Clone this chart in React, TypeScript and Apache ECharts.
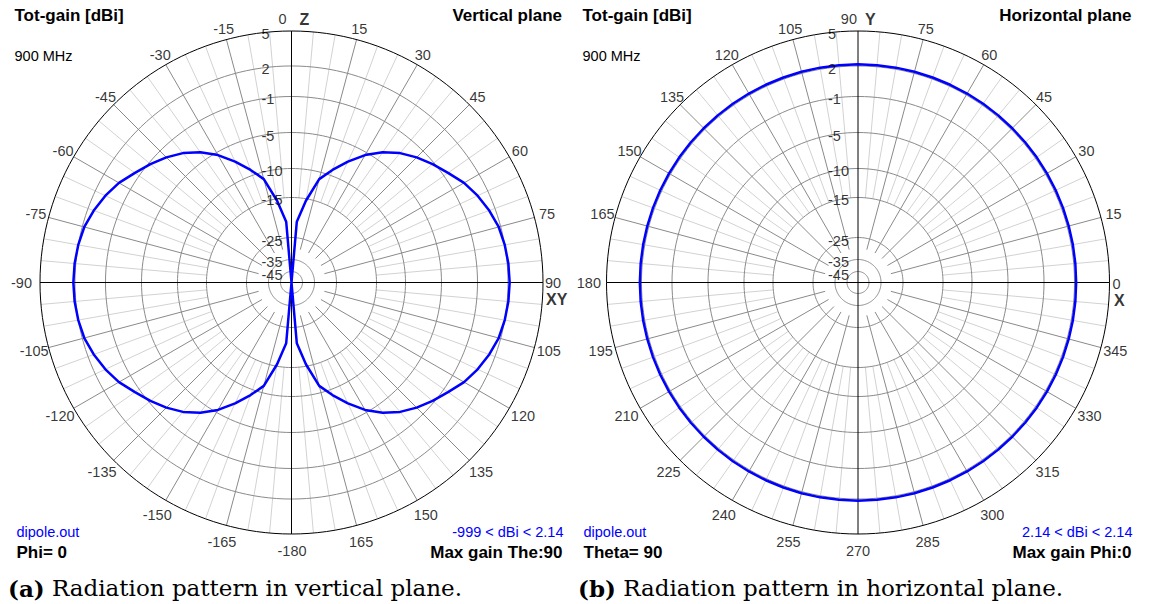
import React, { useEffect, useRef } from "react";
import * as echarts from "echarts";

// ---- scale: gain rings (dBi) and their radius as a fraction of the outer ring ----
const RING_DB = [5, 2, -1, -5, -10, -15, -25, -35, -45];
const RING_RADIUS = [1, 0.861, 0.7396, 0.5964, 0.4533, 0.338, 0.1789, 0.0915, 0.0437];
const FLOOR_DB = -999;

// ---- vertical plane (Phi = 0), theta in degrees, gain in dBi ----
const V_THETA = [
  -180, -175, -170, -165, -160, -155, -150, -145, -140, -135, -130, -125, -120, -115, -110, -105, -100, -95,
  -90, -85, -80, -75, -70, -65, -60, -55, -50, -45, -40, -35, -30, -25, -20, -15, -10, -5,
  0, 5, 10, 15, 20, 25, 30, 35, 40, 45, 50, 55, 60, 65, 70, 75, 80, 85,
  90, 95, 100, 105, 110, 115, 120, 125, 130, 135, 140, 145, 150, 155, 160, 165, 170, 175, 180,
];
const V_GAIN = [
  -999, -21, -15.5, -11.2, -9.2, -7.3, -5.4, -4.0, -2.9, -2.0, -1.2, -0.5, 0.3, 0.9, 1.4, 1.8, 2.0, 2.1,
  2.14, 2.1, 2.0, 1.8, 1.4, 0.9, 0.3, -0.5, -1.2, -2.0, -2.9, -4.0, -5.4, -7.3, -9.2, -11.2, -15.5, -21,
  -999, -21, -15.5, -11.2, -9.2, -7.3, -5.4, -4.0, -2.9, -2.0, -1.2, -0.5, 0.3, 0.9, 1.4, 1.8, 2.0, 2.1,
  2.14, 2.1, 2.0, 1.8, 1.4, 0.9, 0.3, -0.5, -1.2, -2.0, -2.9, -4.0, -5.4, -7.3, -9.2, -11.2, -15.5, -21, -999,
];

// ---- horizontal plane (Theta = 90), phi in degrees, gain in dBi ----
const H_PHI = [
  0, 5, 10, 15, 20, 25, 30, 35, 40, 45, 50, 55, 60, 65, 70, 75, 80, 85,
  90, 95, 100, 105, 110, 115, 120, 125, 130, 135, 140, 145, 150, 155, 160, 165, 170, 175,
  180, 185, 190, 195, 200, 205, 210, 215, 220, 225, 230, 235, 240, 245, 250, 255, 260, 265,
  270, 275, 280, 285, 290, 295, 300, 305, 310, 315, 320, 325, 330, 335, 340, 345, 350, 355, 360,
];
const H_GAIN = [
  2.14, 2.14, 2.14, 2.14, 2.14, 2.14, 2.14, 2.14, 2.14, 2.14, 2.14, 2.14, 2.14, 2.14, 2.14, 2.14, 2.14, 2.14,
  2.14, 2.14, 2.14, 2.14, 2.14, 2.14, 2.14, 2.14, 2.14, 2.14, 2.14, 2.14, 2.14, 2.14, 2.14, 2.14, 2.14, 2.14,
  2.14, 2.14, 2.14, 2.14, 2.14, 2.14, 2.14, 2.14, 2.14, 2.14, 2.14, 2.14, 2.14, 2.14, 2.14, 2.14, 2.14, 2.14,
  2.14, 2.14, 2.14, 2.14, 2.14, 2.14, 2.14, 2.14, 2.14, 2.14, 2.14, 2.14, 2.14, 2.14, 2.14, 2.14, 2.14, 2.14, 2.14,
];

const FONT = "'Liberation Sans', Arial, Helvetica, sans-serif";
const SERIF = "'DejaVu Serif', 'Liberation Serif', serif";
const BLUE = "#0000ff";

const R_PX = 251.5;
const AXIS_MAX = 1.1;

function dbToR(db: number): number {
  const xs = [...RING_DB, FLOOR_DB];
  const ys = [...RING_RADIUS, 0];
  if (db >= xs[0]) return ys[0];
  for (let i = 0; i < xs.length - 1; i++) {
    if (db <= xs[i] && db >= xs[i + 1]) {
      const t = (xs[i] - db) / (xs[i] - xs[i + 1]);
      return ys[i] + (ys[i + 1] - ys[i]) * t;
    }
  }
  return 0;
}

const BREAK: any = ["-", "-"];

type PlotDef = {
  polarIndex: number;
  angMin: number;
  angMax: number;
  top: number; // axis angle at the top
  cosFromTop: (a: number) => number;
  crossA: [number, number];
  crossB: [number, number];
  thetas: number[];
  gains: number[];
  labelAngles: number[];
  special: any[];
};

function buildSeries(p: PlotDef): any[] {
  const lightData: any[] = [];
  const darkData: any[] = [];
  const rStartLight = dbToR(-15);
  const rStartDark = dbToR(-30);
  for (let a = p.angMin + 5; a <= p.angMax; a += 5) {
    const m = ((a % 90) + 90) % 90;
    if (m === 0) continue;
    if (a % 15 === 0) {
      darkData.push([rStartDark, a], [1, a], BREAK);
    } else {
      lightData.push([rStartLight, a], [1, a], BREAK);
    }
  }
  const ringData: any[] = [];
  for (let i = 1; i < RING_RADIUS.length; i++) {
    for (let a = p.angMin; a <= p.angMax; a += 2) ringData.push([RING_RADIUS[i], a]);
    ringData.push(BREAK);
  }
  const outerData: any[] = [];
  for (let a = p.angMin; a <= p.angMax; a += 2) outerData.push([1, a]);
  const crossData: any[] = [
    [1, p.crossA[0]], [1, p.crossA[1]], BREAK,
    [1, p.crossB[0]], [1, p.crossB[1]],
  ];
  const curve = p.thetas.map((t, i) => [dbToR(p.gains[i]), t]);
  const ringLabels = RING_DB.map((db, i) => ({ name: String(db), value: [RING_RADIUS[i], p.top] }));
  const angleLabels = p.labelAngles.map((a) => {
    const c = p.cosFromTop(a);
    const r = (265.5 - 3.5 * c) / R_PX;
    return { name: String(a), value: [r, a] };
  });
  const base = {
    coordinateSystem: "polar",
    polarIndex: p.polarIndex,
    silent: true,
    animation: false,
  };
  const lineBase = { ...base, type: "line", showSymbol: false, symbol: "none", connectNulls: false, smooth: false };
  const txt = { show: true, formatter: "{b}", position: "inside", color: "#000", fontSize: 14.5, fontFamily: FONT };
  return [
    { ...lineBase, z: 1, data: lightData, lineStyle: { color: "#d2d2d2", width: 1 } },
    { ...lineBase, z: 2, data: darkData, lineStyle: { color: "#8a8a8a", width: 1 } },
    { ...lineBase, z: 3, data: ringData, lineStyle: { color: "#8a8a8a", width: 1 } },
    { ...lineBase, z: 4, data: outerData, lineStyle: { color: "#000", width: 1 } },
    { ...lineBase, z: 4, data: crossData, lineStyle: { color: "#000", width: 1 } },
    { ...lineBase, z: 6, data: curve, lineStyle: { color: BLUE, width: 2.5 } },
    {
      ...base, type: "scatter", z: 7, symbolSize: 1, itemStyle: { color: "transparent" },
      data: ringLabels,
      label: { ...txt, align: "left", verticalAlign: "middle", offset: [-30, 3] },
    },
    {
      ...base, type: "scatter", z: 7, symbolSize: 1, itemStyle: { color: "transparent" },
      data: angleLabels,
      label: { ...txt, align: "center", verticalAlign: "middle" },
    },
    {
      ...base, type: "scatter", z: 7, symbolSize: 1, itemStyle: { color: "transparent" },
      data: p.special,
      label: { ...txt, verticalAlign: "middle" },
    },
  ];
}

const bold16 = { fontWeight: "bold", fontSize: 16 };

const LEFT_LABELS: number[] = [];
for (let a = -165; a <= 165; a += 15) if (a !== 0 && a !== 90 && a !== -90) LEFT_LABELS.push(a);
const RIGHT_LABELS: number[] = [];
for (let a = 15; a <= 345; a += 15) if (a !== 90 && a !== 180 && a !== 270) RIGHT_LABELS.push(a);

const leftPlot: PlotDef = {
  polarIndex: 0,
  angMin: -180,
  angMax: 180,
  top: 0,
  cosFromTop: (a) => Math.cos((a * Math.PI) / 180),
  crossA: [0, 180],
  crossB: [-90, 90],
  thetas: V_THETA,
  gains: V_GAIN,
  labelAngles: LEFT_LABELS,
  special: [
    { name: "0", value: [1, 0], label: { align: "right", offset: [-5, -12] } },
    { name: "Z", value: [1, 0], label: { align: "left", offset: [8, -12], ...bold16 } },
    { name: "90", value: [1, 90], label: { align: "left", offset: [2, 0.5] } },
    { name: "XY", value: [1, 90], label: { align: "left", offset: [3, 17], ...bold16 } },
    { name: "-90", value: [1, -90], label: { align: "right", offset: [-8, 0.5] } },
    { name: "-180", value: [1, 180], label: { align: "center", offset: [0.5, 16.5] } },
  ],
};

const rightPlot: PlotDef = {
  polarIndex: 1,
  angMin: 0,
  angMax: 360,
  top: 90,
  cosFromTop: (a) => Math.sin((a * Math.PI) / 180),
  crossA: [90, 270],
  crossB: [0, 180],
  thetas: H_PHI,
  gains: H_GAIN,
  labelAngles: RIGHT_LABELS,
  special: [
    { name: "90", value: [1, 90], label: { align: "right", offset: [-1, -12] } },
    { name: "Y", value: [1, 90], label: { align: "left", offset: [7, -12], ...bold16 } },
    { name: "0", value: [1, 0], label: { align: "left", offset: [3, 1.5] } },
    { name: "X", value: [1, 0], label: { align: "left", offset: [4.5, 17.5], ...bold16 } },
    { name: "180", value: [1, 180], label: { align: "right", offset: [-5.5, 0.5] } },
    { name: "270", value: [1, 270], label: { align: "center", offset: [0, 16.5] } },
  ],
};

function t(text: string, x: number, y: number, opts: any = {}) {
  return {
    type: "text",
    x,
    y,
    silent: true,
    style: {
      text,
      fill: opts.fill || "#000",
      font: `${opts.weight || "normal"} ${opts.size || 14.5}px ${opts.family || FONT}`,
      align: opts.align || "left",
      verticalAlign: "middle",
    },
  };
}

function caption(tag: string, text: string, x: number, y: number) {
  return {
    type: "text",
    x,
    y,
    silent: true,
    style: {
      text: `{b|${tag}} {n|${text}}`,
      verticalAlign: "middle",
      align: "left",
      rich: {
        b: { fontFamily: SERIF, fontSize: 23, fontWeight: "bold", fill: "#000" },
        n: { fontFamily: SERIF, fontSize: 23, fill: "#000" },
      },
      fill: "#000",
      font: `23px ${SERIF}`,
    },
  };
}

export default function App() {
  const ref = useRef<HTMLDivElement>(null);
  useEffect(() => {
    document.body.style.margin = "0";
    if (!ref.current) return;
    const chart = echarts.init(ref.current, undefined, { renderer: "svg" });
    const hidden = {
      axisLine: { show: false },
      axisTick: { show: false },
      axisLabel: { show: false },
      splitLine: { show: false },
      splitArea: { show: false },
    };
    chart.setOption({
      animation: false,
      backgroundColor: "#ffffff",
      polar: [
        { center: [291.5, 282.5], radius: R_PX * AXIS_MAX },
        { center: [858, 282.5], radius: R_PX * AXIS_MAX },
      ],
      angleAxis: [
        { polarIndex: 0, type: "value", min: -180, max: 180, startAngle: 270, clockwise: true, ...hidden },
        { polarIndex: 1, type: "value", min: 0, max: 360, startAngle: 0, clockwise: false, ...hidden },
      ],
      radiusAxis: [
        { polarIndex: 0, type: "value", min: 0, max: AXIS_MAX, ...hidden },
        { polarIndex: 1, type: "value", min: 0, max: AXIS_MAX, ...hidden },
      ],
      graphic: [
        t("Tot-gain [dBi]", 14.5, 15, { weight: "bold", size: 17 }),
        t("Vertical plane", 562, 15, { weight: "bold", size: 17, align: "right" }),
        t("900 MHz", 14.5, 56),
        t("dipole.out", 16.5, 532, { fill: BLUE }),
        t("Phi= 0", 16.5, 552, { weight: "bold", size: 17 }),
        t("-999 < dBi < 2.14", 563.5, 532, { fill: BLUE, align: "right" }),
        t("Max gain The:90", 562.5, 552, { weight: "bold", size: 17, align: "right" }),
        t("Tot-gain [dBi]", 582.5, 15, { weight: "bold", size: 17 }),
        t("Horizontal plane", 1131.5, 15, { weight: "bold", size: 17, align: "right" }),
        t("900 MHz", 582.5, 56),
        t("dipole.out", 583.5, 532, { fill: BLUE }),
        t("Theta= 90", 583.5, 552, { weight: "bold", size: 17 }),
        t("2.14 < dBi < 2.14", 1132.5, 532, { fill: BLUE, align: "right" }),
        t("Max gain Phi:0", 1131.5, 552, { weight: "bold", size: 17, align: "right" }),
        caption("(a)", "Radiation pattern in vertical plane.", 8, 588),
        caption("(b)", "Radiation pattern in horizontal plane.", 578, 588),
      ],
      series: [...buildSeries(leftPlot), ...buildSeries(rightPlot)],
    });
    return () => chart.dispose();
  }, []);
  return <div ref={ref} style={{ width: 1156, height: 604 }} />;
}
